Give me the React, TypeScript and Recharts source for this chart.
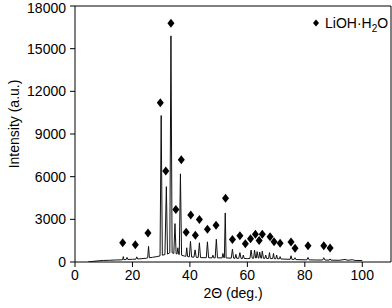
import { ComposedChart, Line, Scatter, XAxis, YAxis, ReferenceLine } from 'recharts'

const FONT = '"Liberation Sans", Arial, Helvetica, sans-serif'

// XRD pattern: [2θ, intensity]
const pattern: [number, number][] = [
  [4.5, 0], [6, 40], [8, 80], [10, 110], [12, 120], [14, 140], [16, 150],
  [16.6, 160], [16.8, 380], [17.0, 170], [17.8, 170], [18.1, 320], [18.4, 180],
  [20, 190], [21.2, 200], [21.5, 360], [21.8, 210], [23, 230], [25, 270],
  [25.3, 290], [25.6, 1100], [25.9, 300], [27, 330], [28.5, 380], [29.6, 430],
  [30.0, 10300], [30.4, 480], [31.3, 520], [31.8, 5300], [32.2, 560], [33.0, 650],
  [33.4, 15900], [33.8, 650], [34.4, 600], [34.8, 2700], [35.2, 580], [35.5, 560],
  [35.8, 1000], [36.1, 540], [36.3, 520], [36.7, 6200], [37.1, 480], [38.0, 420],
  [38.6, 400], [38.9, 1000], [39.2, 380], [39.8, 360], [40.2, 1450], [40.6, 350],
  [41.4, 340], [41.8, 850], [42.2, 330], [42.9, 320], [43.3, 1350], [43.7, 310],
  [45.7, 300], [46.1, 1420], [46.5, 300], [47.7, 290], [48.0, 480], [48.3, 290],
  [48.8, 290], [49.2, 1600], [49.6, 290], [51.2, 290], [51.5, 600], [51.8, 300],
  [52.0, 300], [52.3, 3450], [52.6, 290], [54.4, 270], [54.8, 900], [55.2, 270],
  [55.7, 260], [56.0, 540], [56.3, 260], [57.0, 260], [57.4, 660], [57.8, 250],
  [58.3, 250], [58.6, 490], [58.9, 250], [60, 240], [60.9, 250], [61.3, 840],
  [61.7, 260], [62.2, 270], [62.5, 840], [62.9, 280], [63.1, 280], [63.4, 730],
  [63.8, 280], [64.0, 270], [64.3, 700], [64.7, 270], [64.9, 270], [65.2, 770],
  [65.6, 260], [66.1, 260], [66.4, 490], [66.7, 250], [67.4, 250], [67.7, 660],
  [68.0, 240], [68.8, 240], [69.1, 600], [69.4, 230], [69.9, 230], [70.2, 490],
  [70.5, 220], [71.1, 220], [71.4, 380], [71.7, 210], [74.9, 190], [75.2, 440],
  [75.5, 190], [76.3, 180], [76.6, 300], [76.9, 170], [80.7, 150], [81.1, 320],
  [81.5, 150], [84, 140], [86.2, 140], [86.6, 300], [87.0, 140], [88.5, 130],
  [88.8, 220], [89.1, 130], [92, 120], [94, 180], [95, 120], [96.5, 160],
  [97.5, 110], [100, 100],
]

// LiOH·H2O reflection markers
const liohPeaks: [number, number][] = [
  [16.6, 1360], [21.0, 1220], [25.4, 2040], [29.7, 11200], [31.6, 6400],
  [33.4, 16780], [35.1, 3700], [37.0, 7190], [38.7, 2090], [40.3, 3300],
  [41.9, 1880], [43.3, 2990], [46.1, 2300], [49.1, 2580], [52.4, 4480],
  [54.8, 1590], [57.4, 1850], [59.3, 1290], [61.1, 1640], [62.8, 1950],
  [64.1, 1520], [65.2, 1950], [67.9, 1780], [69.3, 1430], [71.4, 1310],
  [75.2, 1410], [76.6, 960], [81.1, 1150], [86.6, 1150], [88.8, 980],
]

const xTicks = [0, 20, 40, 60, 80, 100]
const yTicks = [0, 3000, 6000, 9000, 12000, 15000, 18000]

const patternData = pattern.map(([x, y]) => ({ x, y }))
const markerData = liohPeaks.map(([x, y]) => ({ x, y }))

const Diamond = (props: any) => {
  const { cx, cy } = props
  return (
    <polygon
      points={`${cx},${cy - 4.5} ${cx + 3.5},${cy} ${cx},${cy + 4.5} ${cx - 3.5},${cy}`}
      fill="#000"
    />
  )
}

const tickStyle = { fontFamily: FONT, fontSize: 14, fill: '#000' }

export default function App() {
  return (
    <div style={{ position: 'absolute', left: 0, top: 0, width: 392, height: 308, background: '#fff' }}>
      <ComposedChart width={392} height={308} margin={{ top: 6, right: 1, bottom: 0, left: 0 }}>
        <XAxis
          type="number"
          dataKey="x"
          domain={[0, 110]}
          ticks={xTicks}
          allowDataOverflow
          stroke="#000"
          tick={tickStyle}
          tickSize={5}
          tickMargin={3}
          height={46}
          label={{ value: '2Θ (deg.)', position: 'insideBottom', offset: 10, style: { fontFamily: FONT, fontSize: 14, fill: '#000' } }}
        />
        <YAxis
          type="number"
          domain={[0, 18000]}
          ticks={yTicks}
          allowDataOverflow
          stroke="#000"
          tick={tickStyle}
          tickSize={5}
          tickMargin={4}
          width={75}
          label={{ value: 'Intensity (a.u.)', angle: -90, position: 'insideLeft', offset: 14, dy: -10, style: { textAnchor: 'middle', fontFamily: FONT, fontSize: 14, fill: '#000' } }}
        />
        <ReferenceLine y={18000} stroke="#000" />
        <ReferenceLine x={110} stroke="#000" />
        <Line
          data={patternData}
          dataKey="y"
          type="linear"
          stroke="#111"
          strokeWidth={1}
          dot={false}
          isAnimationActive={false}
        />
        <Scatter data={markerData} dataKey="y" shape={<Diamond />} isAnimationActive={false} />
      </ComposedChart>
      <div style={{ position: 'absolute', top: 15, left: 312, display: 'flex', alignItems: 'center', fontFamily: FONT, fontSize: 14, color: '#000', whiteSpace: 'nowrap' }}>
        <svg width={8} height={10}>
          <polygon points="4,1.5 7,5 4,8.5 1,5" fill="#000" />
        </svg>
        <span style={{ marginLeft: 5 }}>
          LiOH·H<sub style={{ fontSize: 10, lineHeight: 0 }}>2</sub>O
        </span>
      </div>
    </div>
  )
}
